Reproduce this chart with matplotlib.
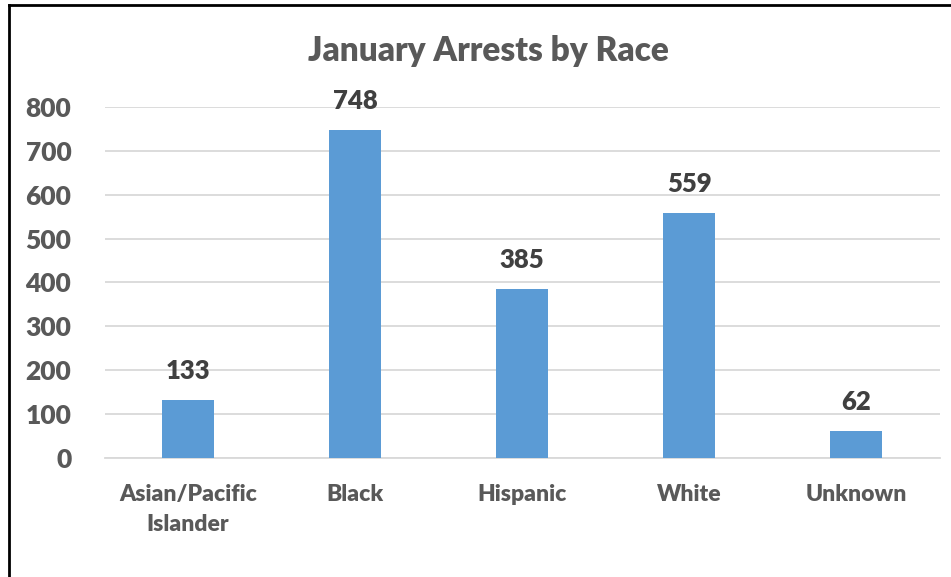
import matplotlib.pyplot as plt
from matplotlib.lines import Line2D

categories = ['Asian/Pacific\nIslander', 'Black', 'Hispanic', 'White', 'Unknown']
arrests = [133, 748, 385, 559, 62]
yticks = [0, 100, 200, 300, 400, 500, 600, 700, 800]

plt.rcParams['font.family'] = ['Lato', 'DejaVu Sans']
plt.rcParams['font.weight'] = 'heavy'

fig = plt.figure(figsize=(9.51, 5.77), dpi=100)
ax = fig.add_axes([0.110, 0.2063, 0.878, 0.6083])

x = range(len(categories))
ax.bar(x, arrests, width=0.31, color='#5B9BD5', zorder=3)
for xi, v in zip(x, arrests):
    ax.text(xi, v + 38, str(v), ha='center', va='bottom', fontsize=18.5,
            fontweight='heavy', color='#404040')

ax.set_xlim(-0.5, len(categories) - 0.5)
ax.set_ylim(0, 800)
ax.set_yticks(yticks)
ax.set_xticks(list(x))
ax.set_xticklabels(categories, fontsize=16.5, fontweight='heavy', color='#595959',
                   linespacing=1.5)
ax.tick_params(axis='y', length=0, pad=24, labelsize=19, labelcolor='#595959')
ax.tick_params(axis='x', length=0, pad=19)
ax.grid(axis='y', color='#D9D9D9', linewidth=1.3, zorder=0)
for s in ['top', 'right', 'left']:
    ax.spines[s].set_visible(False)
ax.spines['bottom'].set_color('#D9D9D9')
ax.spines['bottom'].set_linewidth(1.3)

fig.text(0.514, 0.912, 'January Arrests by Race', ha='center', va='center',
         fontsize=24, fontweight='heavy', color='#595959')

# cropped box border (left and top)
fig.add_artist(Line2D([0.009, 0.009], [0, 0.991], color='black', linewidth=2,
                      transform=fig.transFigure))
fig.add_artist(Line2D([0.009, 1.0], [0.991, 0.991], color='black', linewidth=2,
                      transform=fig.transFigure))

fig.savefig('out.png', dpi=100)
